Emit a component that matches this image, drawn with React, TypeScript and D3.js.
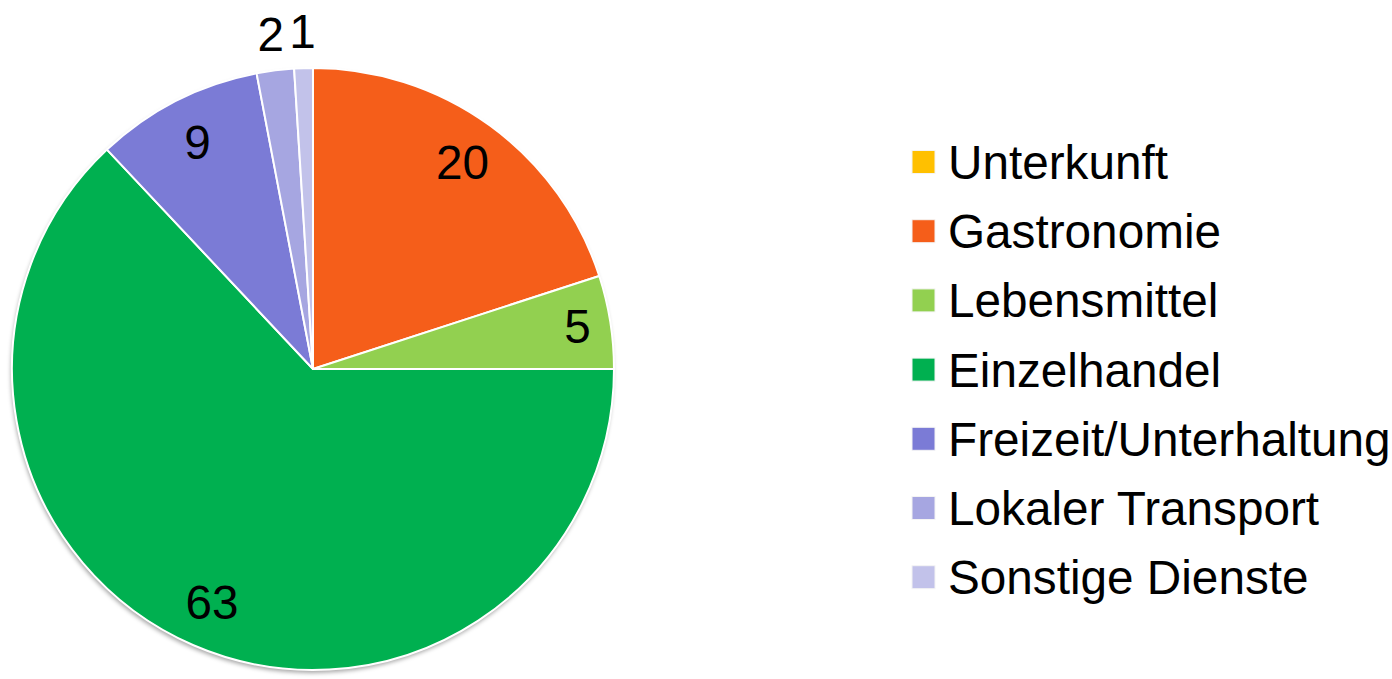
import React from "react";
import * as d3 from "d3";

const categories = [
  "Unterkunft",
  "Gastronomie",
  "Lebensmittel",
  "Einzelhandel",
  "Freizeit/Unterhaltung",
  "Lokaler Transport",
  "Sonstige Dienste",
];
const values = [0, 20, 5, 63, 9, 2, 1];
const colors = ["#FFC000", "#F55E1A", "#92D050", "#00B050", "#7B7BD6", "#A6A6E1", "#C2C2EA"];

const W = 1392;
const H = 679;
const cx = 313;
const cy = 369;
const R = 301;
const FONT = "'Liberation Sans', Arial, sans-serif";
const FS = 47.7;

export default function App() {
  const data = categories.map((c, i) => ({ c, v: values[i], color: colors[i] }));
  const pie = d3
    .pie<any>()
    .sort(null)
    .value((d: any) => d.v)
    .startAngle(0)
    .endAngle(2 * Math.PI);
  const arcs = pie(data);
  const arc = d3.arc<any>().innerRadius(0).outerRadius(R);

  const labelPos = (a: any) => {
    const v = a.data.v;
    const r = v < 3 ? R + 36 : v < 8 ? R * 0.89 : R * 0.845;
    const la = d3.arc<any>().innerRadius(r).outerRadius(r);
    return la.centroid(a);
  };

  const legendX = 912;
  const legendY0 = 162;
  const legendStep = 69.2;

  return (
    <svg
      width={W}
      height={H}
      style={{ position: "absolute", left: 0, top: 0, display: "block", background: "#fff" }}
    >
      <defs>
        <filter id="sh" x="-10%" y="-10%" width="120%" height="120%">
          <feDropShadow dx="-1" dy="3" stdDeviation="2.2" floodColor="#000" floodOpacity="0.35" />
        </filter>
      </defs>
      <g transform={`translate(${cx},${cy})`}>
        <circle r={R} fill="#fff" filter="url(#sh)" />
        {arcs
          .filter((a) => a.data.v > 0)
          .map((a, i) => (
            <path key={i} d={arc(a) as string} fill={a.data.color} stroke="#fff" strokeWidth={2} strokeLinejoin="round" />
          ))}
        {arcs
          .filter((a) => a.data.v > 0)
          .map((a, i) => {
            const [x, y] = labelPos(a);
            return (
              <text
                key={i}
                x={x}
                y={y + FS * 0.34}
                textAnchor="middle"
                fontFamily={FONT}
                fontSize={FS}
                fill="#000"
              >
                {a.data.v}
              </text>
            );
          })}
      </g>
      <g>
        {data.map((d, i) => {
          const y = legendY0 + i * legendStep;
          return (
            <g key={i}>
              <rect x={legendX} y={y - 11.5} width={23} height={23} fill={d.color} stroke="#f4f4f4" strokeWidth={1} />
              <text x={948} y={y + 17} fontFamily={FONT} fontSize={FS} fill="#000">
                {d.c}
              </text>
            </g>
          );
        })}
      </g>
    </svg>
  );
}
